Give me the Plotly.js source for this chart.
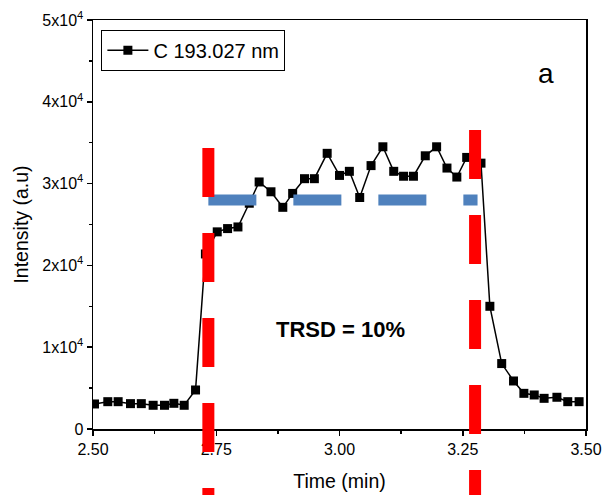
<!DOCTYPE html>
<html>
<head>
<meta charset="utf-8">
<script src="https://cdn.plot.ly/plotly-3.0.1.min.js"></script>
<style>html,body{margin:0;padding:0;background:#fff;}#chart{width:604px;height:495px;}</style>
</head>
<body>
<div id="chart"></div>
<script>
// Time (min)
const time = [2.503, 2.530, 2.551, 2.576, 2.598, 2.622, 2.645, 2.664, 2.685, 2.708, 2.728,
  2.752, 2.773, 2.794, 2.817, 2.837, 2.861, 2.885, 2.905, 2.929, 2.949, 2.975,
  3.000, 3.020, 3.041, 3.064, 3.088, 3.110, 3.130, 3.150, 3.174, 3.197, 3.218, 3.238, 3.258, 3.287,
  3.305, 3.329, 3.353, 3.374, 3.395, 3.415, 3.441, 3.463, 3.486];
// Intensity (a.u)
const intensity = [3060, 3340, 3340, 3100, 3100, 2900, 2900, 3140, 2900, 4770, 21400,
  24100, 24500, 24700, 27600, 30200, 29000, 27100, 28800, 30600, 30600, 33700,
  31000, 31500, 28300, 32200, 34500, 31500, 30900, 30900, 33400, 34500, 31900, 30800, 33200, 32500,
  15000, 8000, 5870, 4360, 4160, 3750, 3880, 3340, 3340];
const seriesName = 'C 193.027 nm';
// integration window and mean level
const windowStart = 2.734;
const windowEnd = 3.275;
const meanLevel = 28000;
const yTickVals = [0, 10000, 20000, 30000, 40000, 50000];
const yTickText = ['0', '1x10<sup>4</sup>', '2x10<sup>4</sup>', '3x10<sup>4</sup>', '4x10<sup>4</sup>', '5x10<sup>4</sup>'];
const yMinor = [5000, 15000, 25000, 35000, 45000];
const xTickVals = [2.5, 2.75, 3.0, 3.25, 3.5];
const xTickText = ['2.50', '2.75', '3.00', '3.25', '3.50'];
const xMinor = [2.625, 2.875, 3.125, 3.375];

const trace = {
  x: time, y: intensity, name: seriesName, type: 'scatter', mode: 'lines+markers',
  line: {color: '#000', width: 1.5},
  marker: {symbol: 'square', size: 9, color: '#000'},
  cliponaxis: true
};

const layout = {
  width: 604, height: 495,
  margin: {l: 92.5, r: 18, t: 20, b: 66},
  paper_bgcolor: '#fff', plot_bgcolor: '#fff',
  font: {family: 'Arial, Liberation Sans, sans-serif', color: '#000', size: 16},
  showlegend: true,
  legend: {x: 0.017, y: 0.976, xanchor: 'left', yanchor: 'top', bgcolor: '#fff',
    bordercolor: '#000', borderwidth: 1, font: {size: 20}, itemwidth: 41,
    tracegroupgap: 0},
  xaxis: {
    range: [2.5, 3.5], tickmode: 'array', tickvals: xTickVals, ticktext: xTickText,
    ticks: 'outside', ticklen: 5, tickwidth: 1.5, tickcolor: '#000',
    showline: true, linecolor: '#000', linewidth: 1.5, mirror: true,
    showgrid: false, zeroline: false,
    minor: {tickmode: 'array', tickvals: xMinor, ticks: 'outside', ticklen: 3, tickwidth: 1.5, tickcolor: '#000', showgrid: false},
    title: {text: 'Time (min)', font: {size: 19.5}, standoff: 17},
    tickfont: {size: 16}
  },
  yaxis: {
    range: [0, 50000], tickmode: 'array', tickvals: yTickVals, ticktext: yTickText,
    ticks: 'outside', ticklen: 5, tickwidth: 1.5, tickcolor: '#000',
    showline: true, linecolor: '#000', linewidth: 1.5, mirror: true,
    showgrid: false, zeroline: false,
    minor: {tickmode: 'array', tickvals: yMinor, ticks: 'outside', ticklen: 3, tickwidth: 1.5, tickcolor: '#000', showgrid: false},
    title: {text: 'Intensity (a.u)', font: {size: 19.5}, standoff: 8},
    tickfont: {size: 16}
  },
  shapes: [
    {type: 'line', xref: 'x', yref: 'y', x0: windowStart, x1: windowEnd + 0.005, y0: meanLevel, y1: meanLevel,
      line: {color: '#4F81BD', width: 11, dash: '48px,37px'}, layer: 'above'},
    {type: 'line', xref: 'x', yref: 'paper', x0: windowStart, x1: windowStart, y0: 0.687, y1: -0.2,
      line: {color: '#FF0000', width: 12, dash: '49px,36px'}, layer: 'above'},
    {type: 'line', xref: 'x', yref: 'paper', x0: windowEnd, x1: windowEnd, y0: 0.731, y1: -0.2,
      line: {color: '#FF0000', width: 12, dash: '49px,36px'}, layer: 'above'}
  ],
  annotations: [
    {x: 3.003, y: 12200, xref: 'x', yref: 'y', text: '<b>TRSD = 10%</b>', showarrow: false,
      font: {size: 22, color: '#000'}},
    {x: 3.419, y: 43500, xref: 'x', yref: 'y', text: 'a', showarrow: false,
      font: {size: 28, color: '#000'}}
  ]
};

Plotly.newPlot('chart', [trace], layout, {displayModeBar: false, staticPlot: true});
</script>
</body>
</html>
